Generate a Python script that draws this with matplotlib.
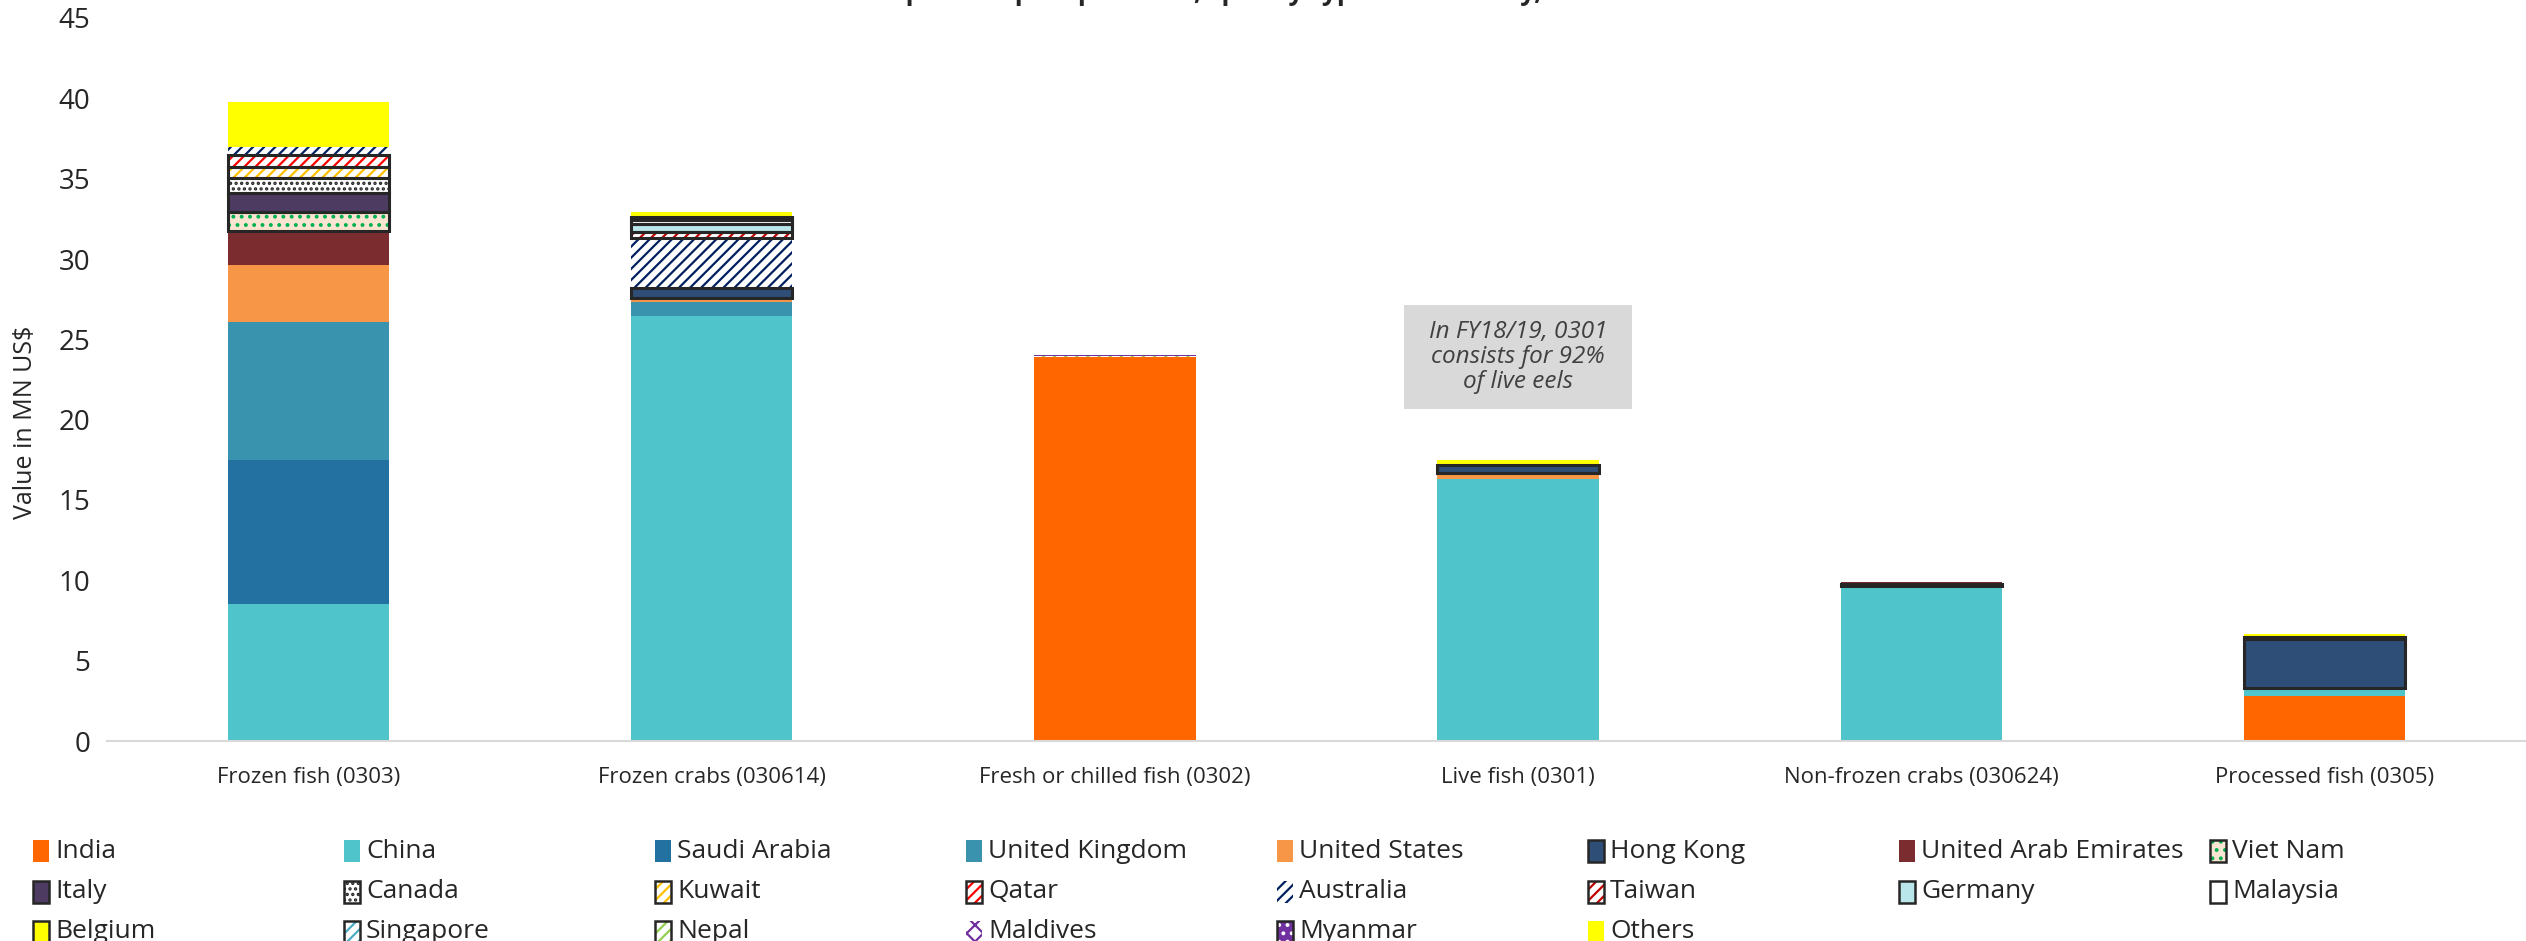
import matplotlib
matplotlib.use('Agg')
import matplotlib.pyplot as plt
from matplotlib.patches import Rectangle
import numpy as np

plt.rcParams['font.family'] = ['Open Sans', 'DejaVu Sans']
plt.rcParams['hatch.linewidth'] = 1.6

# ---------------- data ----------------
categories = ["Frozen fish (0303)", "Frozen crabs (030614)", "Fresh or chilled fish (0302)",
              "Live fish (0301)", "Non-frozen crabs (030624)", "Processed fish (0305)"]

countries = ["India", "China", "Saudi Arabia", "United Kingdom", "United States", "Hong Kong",
             "United Arab Emirates", "Viet Nam", "Italy", "Canada", "Kuwait", "Qatar",
             "Australia", "Taiwan", "Germany", "Malaysia", "Belgium", "Singapore",
             "Nepal", "Maldives", "Myanmar", "Others"]

india          = [0.00, 0.00, 23.90, 0.00, 0.00, 2.82]
china          = [8.50, 26.45, 0.00, 16.28, 9.67, 0.46]
saudi_arabia   = [9.00, 0.00, 0.00, 0.00, 0.00, 0.00]
united_kingdom = [8.60, 0.85, 0.00, 0.00, 0.00, 0.00]
united_states  = [3.50, 0.30, 0.00, 0.37, 0.00, 0.00]
hong_kong      = [0.00, 0.60, 0.00, 0.55, 0.13, 3.05]
uae            = [2.15, 0.00, 0.00, 0.00, 0.10, 0.00]
viet_nam       = [1.15, 0.00, 0.00, 0.00, 0.00, 0.00]
italy          = [1.20, 0.00, 0.00, 0.00, 0.00, 0.00]
canada         = [0.95, 0.00, 0.00, 0.00, 0.00, 0.00]
kuwait         = [0.70, 0.00, 0.00, 0.00, 0.00, 0.00]
qatar          = [0.70, 0.00, 0.00, 0.00, 0.00, 0.00]
australia      = [0.55, 3.10, 0.00, 0.00, 0.00, 0.00]
taiwan         = [0.00, 0.40, 0.00, 0.00, 0.00, 0.00]
germany        = [0.00, 0.45, 0.00, 0.00, 0.00, 0.00]
malaysia       = [0.00, 0.25, 0.00, 0.00, 0.00, 0.12]
belgium        = [0.00, 0.20, 0.00, 0.00, 0.00, 0.00]
singapore      = [0.00, 0.00, 0.00, 0.00, 0.00, 0.00]
nepal          = [0.00, 0.00, 0.05, 0.00, 0.00, 0.00]
maldives       = [0.00, 0.00, 0.00, 0.00, 0.00, 0.00]
myanmar        = [0.00, 0.00, 0.05, 0.00, 0.00, 0.00]
others         = [2.80, 0.30, 0.05, 0.27, 0.00, 0.20]

series = [india, china, saudi_arabia, united_kingdom, united_states, hong_kong, uae,
          viet_nam, italy, canada, kuwait, qatar, australia, taiwan, germany, malaysia,
          belgium, singapore, nepal, maldives, myanmar, others]

yticks = [0, 5, 10, 15, 20, 25, 30, 35, 40, 45]
note_text = "In FY18/19, 0301\nconsists for 92%\nof live eels"
ylabel = "Value in MN US$"
title = "Top fish export products, split by type and country, FY18/19"

# ---------------- styles ----------------
EDGE = '#262626'
# face, hatch, hatch colour, outlined
styles = {
    "India": ('#FF6600', None, None, False),
    "China": ('#4FC4CA', None, None, False),
    "Saudi Arabia": ('#2271A0', None, None, False),
    "United Kingdom": ('#3993AE', None, None, False),
    "United States": ('#F79646', None, None, False),
    "Hong Kong": ('#2E4E78', None, None, True),
    "United Arab Emirates": ('#7B2C2F', None, None, False),
    "Viet Nam": ('#FCE4D2', '..', '#00B050', True),
    "Italy": ('#4E3B62', None, None, True),
    "Canada": ('#FFFFFF', '...', '#262626', True),
    "Kuwait": ('#FFFFFF', '///', '#FFC000', True),
    "Qatar": ('#FFFFFF', '///', '#FF0000', True),
    "Australia": ('#FFFFFF', '///', '#002060', False),
    "Taiwan": ('#FFFFFF', '///', '#C00000', True),
    "Germany": ('#B8E6EA', None, None, True),
    "Malaysia": ('#FFFFFF', None, None, True),
    "Belgium": ('#FFFF00', None, None, True),
    "Singapore": ('#FFFFFF', '///', '#4BACC6', True),
    "Nepal": ('#FFFFFF', '///', '#92D050', True),
    "Maldives": ('#FFFFFF', 'xx', '#7030A0', False),
    "Myanmar": ('#7030A0', '..', '#FFFFFF', True),
    "Others": ('#FFFF00', None, None, False),
}

W, H = 2526, 941
fig = plt.figure(figsize=(W / 100, H / 100), dpi=100)
ax = fig.add_axes([107 / W, 1 - 741 / H, (W - 107) / W, (741 - 18) / H])

x = np.arange(len(categories))
bw = 0.4
bottom = np.zeros(len(categories))
for name, vals in zip(countries, series):
    vals = np.array(vals, dtype=float)
    face, hatch, hcol, outlined = styles[name]
    m = vals > 0
    if m.any():
        ax.bar(x[m], vals[m], bw, bottom=bottom[m], color=face,
               edgecolor=hcol if hcol else face, linewidth=0, hatch=hatch, zorder=2)
        mo = vals > 0.1
        if outlined and mo.any():
            ax.bar(x[mo], vals[mo], bw, bottom=bottom[mo], fill=False,
                   edgecolor=EDGE, linewidth=2.2, zorder=3)
    bottom += vals

ax.set_xlim(-0.5, len(categories) - 0.5)
ax.set_ylim(0, 45)
ax.set_yticks(yticks)
ax.set_xticks(x)
ax.set_xticklabels(categories, fontsize=16, color='#262626')
ax.tick_params(axis='y', labelsize=20, length=0, pad=12, labelcolor='#262626')
ax.tick_params(axis='x', length=0, pad=19)
for s in ['top', 'right', 'left']:
    ax.spines[s].set_visible(False)
ax.spines['bottom'].set_color('#D9D9D9')
ax.spines['bottom'].set_linewidth(1.5)

# annotation box
bw_px, bh_px = 228, 104
px_per_cat = (W - 107) / len(categories)
px_per_unit = (741 - 18) / 45
cx, cy = 3, 23.9
ax.add_patch(Rectangle((cx - bw_px / px_per_cat / 2, cy - bh_px / px_per_unit / 2),
                       bw_px / px_per_cat, bh_px / px_per_unit,
                       facecolor='#D9D9D9', edgecolor='none', zorder=4))
ax.text(cx, cy, note_text, ha='center', va='center', fontsize=17.5, style='italic',
        color='#404040', linespacing=1.05, zorder=5)

# y label
fig.text(26 / W, 1 - 422 / H, ylabel, rotation=90, ha='center', va='center',
         fontsize=18, color='#262626')

# title (cut off at top as in the reference)
fig.text(0.5, 1.0, title, ha='center', va='baseline', fontsize=19,
         fontweight='bold', color='#262626')

# legend (manual, 8 columns)
col_x0, col_dx = 33, 311
row_y = [851, 892, 932]
pw, ph = 16, 22
for i, name in enumerate(countries):
    r, c = divmod(i, 8)
    px = col_x0 + c * col_dx
    py = row_y[r]
    face, hatch, hcol, outlined = styles[name]
    y0 = 1 - (py + ph / 2) / H
    if hatch:
        fig.add_artist(Rectangle((px / W, y0), pw / W, ph / H, transform=fig.transFigure,
                                 facecolor=face, edgecolor=hcol, linewidth=0, hatch=hatch))
    else:
        fig.add_artist(Rectangle((px / W, y0), pw / W, ph / H, transform=fig.transFigure,
                                 facecolor=face, edgecolor='none', linewidth=0))
    if outlined:
        fig.add_artist(Rectangle((px / W, y0), pw / W, ph / H, transform=fig.transFigure,
                                 fill=False, edgecolor=EDGE, linewidth=1.8))
    fig.text((px + pw + 6) / W, 1 - py / H, name, ha='left', va='center',
             fontsize=19, color='#262626')

fig.savefig('out.png', dpi=100)
